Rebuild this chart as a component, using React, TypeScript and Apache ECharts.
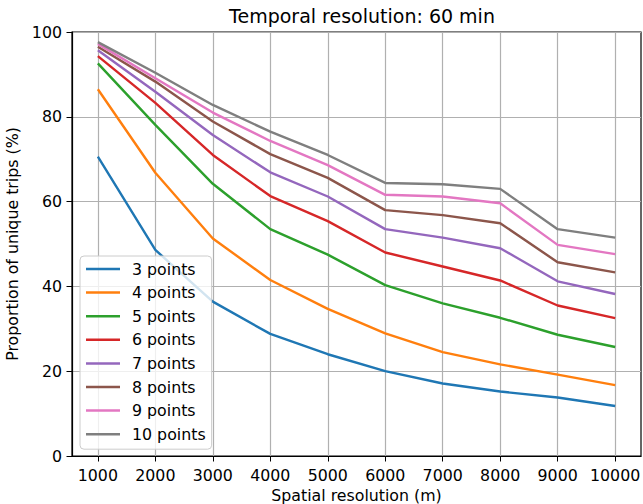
import React, { useEffect, useRef } from "react";
import * as echarts from "echarts";

const spatialRes = [1000, 2000, 3000, 4000, 5000, 6000, 7000, 8000, 9000, 10000];
const seriesNames = ["3 points", "4 points", "5 points", "6 points", "7 points", "8 points", "9 points", "10 points"];
const colors = ["#1f77b4", "#ff7f0e", "#2ca02c", "#d62728", "#9467bd", "#8c564b", "#e377c2", "#7f7f7f"];
const p3 = [70.6, 48.6, 36.4, 28.8, 24.0, 20.0, 17.1, 15.2, 13.8, 11.8];
const p4 = [86.5, 66.8, 51.3, 41.5, 34.7, 28.9, 24.5, 21.6, 19.2, 16.7];
const p5 = [92.6, 78.1, 64.2, 53.5, 47.5, 40.3, 36.0, 32.6, 28.6, 25.7];
const p6 = [94.3, 83.3, 71.0, 61.3, 55.4, 48.0, 44.7, 41.4, 35.5, 32.5];
const p7 = [95.7, 85.9, 75.7, 66.9, 61.2, 53.5, 51.5, 49.0, 41.2, 38.2];
const p8 = [96.5, 88.3, 78.9, 71.2, 65.6, 58.0, 56.8, 54.9, 45.7, 43.3];
const p9 = [97.2, 89.1, 81.0, 74.3, 68.6, 61.6, 61.2, 59.6, 49.8, 47.6];
const p10 = [97.6, 90.4, 82.8, 76.5, 71.0, 64.4, 64.1, 63.0, 53.5, 51.5];
const allValues = [p3, p4, p5, p6, p7, p8, p9, p10];
const yTicks = [0, 20, 40, 60, 80, 100];

const FONT = "DejaVu Sans";
const FS = 15.8;

export default function App() {
  const ref = useRef<HTMLDivElement>(null);
  useEffect(() => {
    if (!ref.current) return;
    const chart = echarts.init(ref.current, null, { renderer: "svg" });
    const option: any = {
      animation: false,
      backgroundColor: "#ffffff",
      title: {
        text: "Temporal resolution: 60 min",
        left: 357,
        textAlign: "center",
        top: 1,
        textStyle: { fontFamily: FONT, fontSize: 19, fontWeight: "normal", color: "#000" },
      },
      grid: {
        left: 72,
        right: 2,
        top: 32,
        bottom: 48,
        containLabel: false,
        outerBoundsMode: "none",
        show: true,
        borderColor: "#000",
        borderWidth: 1.2,
        backgroundColor: "transparent",
      },
      legend: {
        orient: "vertical",
        left: 80,
        top: 256,
        padding: [5, 6, 7, 6],
        icon: "rect",
        itemWidth: 34,
        itemHeight: 2.5,
        itemGap: 7.6,
        backgroundColor: "rgba(255,255,255,0.8)",
        borderColor: "#cccccc",
        borderWidth: 1,
        borderRadius: 4,
        textStyle: { fontFamily: FONT, fontSize: FS, lineHeight: FS, color: "#000", padding: [0, 0, 0, 7] },
        data: seriesNames,
      },
      xAxis: {
        type: "value",
        min: 550,
        max: 10450,
        name: "Spatial resolution (m)",
        nameLocation: "middle",
        nameGap: 30,
        nameTextStyle: { fontFamily: FONT, fontSize: FS, color: "#000" },
        axisLine: { show: true, lineStyle: { color: "#000", width: 1.2 } },
        axisTick: { show: true, inside: false, length: 5.5, lineStyle: { color: "#000" }, customValues: spatialRes },
        axisLabel: {
          fontFamily: FONT,
          fontSize: FS,
          color: "#000",
          margin: 11,
          customValues: spatialRes,
          formatter: (v: number) => String(v),
        },
        splitLine: { show: true, lineStyle: { color: "#b0b0b0", width: 1.2 } },
      },
      yAxis: {
        type: "value",
        min: 0,
        max: 100,
        interval: 20,
        name: "Proportion of unique trips (%)",
        nameLocation: "middle",
        nameGap: 46,
        nameTextStyle: { fontFamily: FONT, fontSize: FS, color: "#000" },
        axisLine: { show: true, lineStyle: { color: "#000", width: 1.2 } },
        axisTick: { show: true, inside: false, length: 5.5, lineStyle: { color: "#000" } },
        axisLabel: {
          fontFamily: FONT,
          fontSize: FS,
          color: "#000",
          margin: 10,
          customValues: yTicks,
          formatter: (v: number) => String(v),
        },
        splitLine: { show: true, lineStyle: { color: "#b0b0b0", width: 1.2 } },
      },
      series: seriesNames.map((name, i) => ({
        name,
        type: "line",
        symbol: "none",
        showSymbol: false,
        color: colors[i],
        itemStyle: { color: colors[i] },
        lineStyle: { width: 2.4, color: colors[i] },
        data: spatialRes.map((x, j) => [x, allValues[i][j]]),
        z: 3,
      })),
    };
    chart.setOption(option);
    return () => chart.dispose();
  }, []);
  return (
    <div
      ref={ref}
      style={{ position: "absolute", left: 0, top: 0, width: 643, height: 504 }}
    />
  );
}
